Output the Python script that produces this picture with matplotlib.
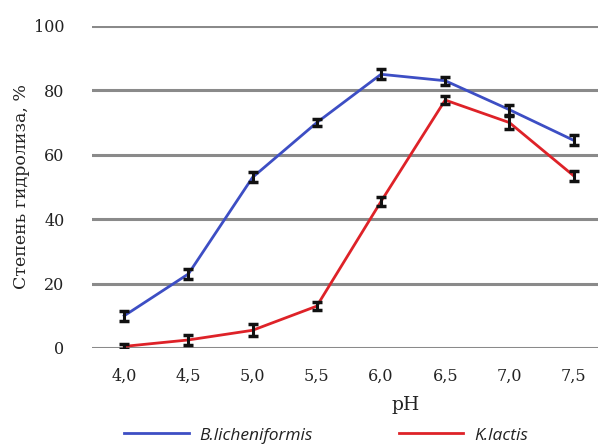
import matplotlib.pyplot as plt

# Данные
ph = [4.0, 4.5, 5.0, 5.5, 6.0, 6.5, 7.0, 7.5]
ph_labels = ['4,0', '4,5', '5,0', '5,5', '6,0', '6,5', '7,0', '7,5']
b_lich = [10, 23, 53, 70, 85, 83, 74, 64.5]
k_lactis = [0.5, 2.5, 5.5, 13, 45.5, 77, 70, 53.5]
err_b = [1.5, 1.5, 1.5, 1.2, 1.5, 1.3, 1.5, 1.5]
err_k = [0.8, 1.5, 1.8, 1.3, 1.3, 1.3, 2.0, 1.5]

fig = plt.figure(figsize=(5.98, 4.45), dpi=100)
ax = fig.add_axes([0.154, 0.218, 0.846, 0.7236])

# сетка
for y in [0, 20, 40, 60, 80, 100]:
    ax.axhline(y, color='#8a8a8a', linewidth=2.2, zorder=1)

ax.plot(ph, b_lich, color='#3d4ec4', linewidth=2.0, label='B.licheniformis', zorder=3)
ax.plot(ph, k_lactis, color='#de2228', linewidth=2.0, label='K.lactis', zorder=3)
ax.errorbar(ph, b_lich, yerr=err_b, fmt='none', ecolor='#111111',
            elinewidth=2.2, capsize=3.5, capthick=2.5, zorder=4)
ax.errorbar(ph, k_lactis, yerr=err_k, fmt='none', ecolor='#111111',
            elinewidth=2.2, capsize=3.5, capthick=2.5, zorder=4)

ax.set_xlim(3.75, 7.69)
ax.set_ylim(0, 100)
ax.set_xticks(ph)
ax.set_xticklabels(ph_labels)
ax.set_yticks([0, 20, 40, 60, 80, 100])
for s in ax.spines.values():
    s.set_visible(False)
ax.tick_params(length=0, labelsize=11.5, colors='#222222')
ax.tick_params(axis='y', pad=20)
ax.tick_params(axis='x', pad=14)
for t in ax.get_xticklabels() + ax.get_yticklabels():
    t.set_family('DejaVu Serif')

ax.set_ylabel('Степень гидролиза, %', family='DejaVu Serif', fontsize=12.5,
              color='#222222')
ax.yaxis.set_label_coords(-0.122, 0.5)
ax.set_xlabel('pH', family='DejaVu Serif', fontsize=13.5, color='#222222')
ax.xaxis.set_label_coords(0.62, -0.15)

leg = ax.legend(loc='upper left', bbox_to_anchor=(0.05, -0.225), ncol=2,
                frameon=False, handlelength=3.7, handletextpad=0.6,
                columnspacing=5.0, borderaxespad=0,
                prop={'family': 'Open Sans', 'style': 'italic', 'size': 12.5})
for t in leg.get_texts():
    t.set_color('#222222')

fig.savefig('out.png', dpi=100)
